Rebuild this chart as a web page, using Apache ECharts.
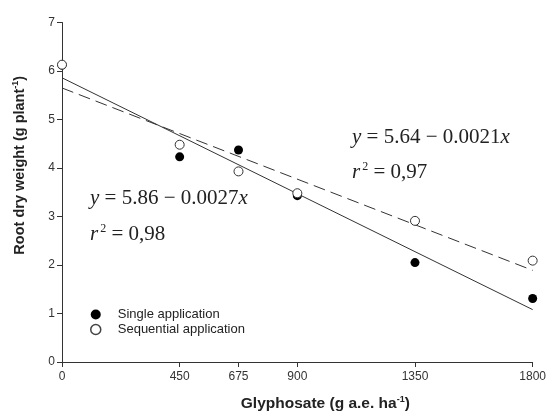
<!DOCTYPE html>
<html><head><meta charset="utf-8">
<script src="https://cdn.jsdelivr.net/npm/echarts@6/dist/echarts.min.js"></script>
<style>html,body{margin:0;padding:0;background:#fff}#c{width:549px;height:417px}</style>
</head><body><div id="c"></div>
<script>
const doses = [0, 450, 675, 900, 1350, 1800];
const singleVals = [6.12, 4.23, 4.37, 3.43, 2.05, 1.31];
const sequentialVals = [6.13, 4.48, 3.93, 3.48, 2.91, 2.09];
const singleFitEnds = [[0, 5.86], [1800, 1.08]];
const sequentialFitEnds = [[0, 5.65], [1800, 1.89]];
const xTicks = [0, 450, 675, 900, 1350, 1800];
const seriesNames = ['Single application', 'Sequential application'];

const chart = echarts.init(document.getElementById('c'), null, {renderer: 'canvas'});
const axisCol = '#333';
const sans = 'Liberation Sans';
const serif = 'Liberation Serif';
const eqRich = {
  i: {fontFamily: serif, fontStyle: 'italic', fontSize: 21, fill: '#222'},
  s: {fontFamily: serif, fontSize: 12, fill: '#222', verticalAlign: 'top', padding: [0, 0, 10, 2]}
};
chart.setOption({
  animation: false,
  backgroundColor: '#fff',
  grid: {left: 62, right: 15, top: 22.5, bottom: 54},
  xAxis: {
    type: 'value', min: 0, max: 1800,
    name: 'Glyphosate (g a.e. ha{sup|-1})',
    nameLocation: 'middle', nameGap: 33,
    nameTextStyle: {fontFamily: sans, fontWeight: 'bold', fontSize: 15.5, color: '#222', padding: [0, 0, 0, 56],
      rich: {sup: {fontFamily: sans, fontWeight: 'bold', fontSize: 9, color: '#222', padding: [0, 0, 9, 0]}}},
    axisLine: {lineStyle: {color: axisCol, width: 1}},
    axisTick: {show: true, customValues: xTicks, length: 5, inside: false, lineStyle: {color: axisCol}},
    axisLabel: {customValues: xTicks, formatter: v => String(v), fontFamily: sans, fontSize: 12, color: '#333', margin: 9},
    splitLine: {show: false}
  },
  yAxis: {
    type: 'value', min: 0, max: 7, interval: 1,
    name: 'Root dry weight (g plant{sup|-1})',
    nameLocation: 'middle', nameGap: 33, nameRotate: 90,
    nameTextStyle: {fontFamily: sans, fontWeight: 'bold', fontSize: 14.5, color: '#222', padding: [0, 0, 0, 54],
      rich: {sup: {fontFamily: sans, fontWeight: 'bold', fontSize: 9, color: '#222', padding: [0, 0, 9, 0]}}},
    axisLine: {show: true, lineStyle: {color: axisCol, width: 1}},
    axisTick: {show: true, length: 5, lineStyle: {color: axisCol}},
    axisLabel: {formatter: v => String(v), fontFamily: sans, fontSize: 12, color: '#333', margin: 7},
    splitLine: {show: false}
  },
  legend: {
    orient: 'vertical', left: 90, top: 308, itemGap: 2, padding: 0,
    itemWidth: 10, itemHeight: 10,
    textStyle: {fontFamily: sans, fontSize: 13, color: '#222', padding: [0, 0, 0, 12]},
    data: [
      {name: seriesNames[0], icon: 'circle', itemStyle: {color: '#000', borderWidth: 0}},
      {name: seriesNames[1], icon: 'circle', itemStyle: {color: '#fff', borderColor: '#444', borderWidth: 1.5}}
    ]
  },
  series: [
    {type: 'line', data: singleFitEnds, symbol: 'none', silent: true, z: 1,
      lineStyle: {color: '#333', width: 1, type: 'solid'}},
    {type: 'line', data: sequentialFitEnds, symbol: 'none', silent: true, z: 1,
      lineStyle: {color: '#333', width: 1, type: [12, 6]}},
    {name: seriesNames[0], type: 'scatter', z: 3, symbol: 'circle', symbolSize: 9,
      data: doses.map((d, i) => [d, singleVals[i]]),
      itemStyle: {color: '#000', opacity: 1}},
    {name: seriesNames[1], type: 'scatter', z: 4, symbol: 'circle', symbolSize: 9,
      data: doses.map((d, i) => [d, sequentialVals[i]]),
      itemStyle: {color: '#fff', borderColor: '#333', borderWidth: 1, opacity: 1}}
  ],
  graphic: [
    {type: 'text', left: 90, top: 188, z: 10, style: {
      text: '{i|y} = 5.86 \u2212 0.0027{i|x}', rich: eqRich,
      font: '21px "Liberation Serif"', fill: '#222'}},
    {type: 'text', left: 90, top: 223, z: 10, style: {
      text: '{i|r}{s|2} = 0,98', rich: eqRich,
      font: '21px "Liberation Serif"', fill: '#222'}},
    {type: 'text', left: 352, top: 127, z: 10, style: {
      text: '{i|y} = 5.64 \u2212 0.0021{i|x}', rich: eqRich,
      font: '21px "Liberation Serif"', fill: '#222'}},
    {type: 'text', left: 352, top: 161, z: 10, style: {
      text: '{i|r}{s|2} = 0,97', rich: eqRich,
      font: '21px "Liberation Serif"', fill: '#222'}}
  ]
});
</script></body></html>
